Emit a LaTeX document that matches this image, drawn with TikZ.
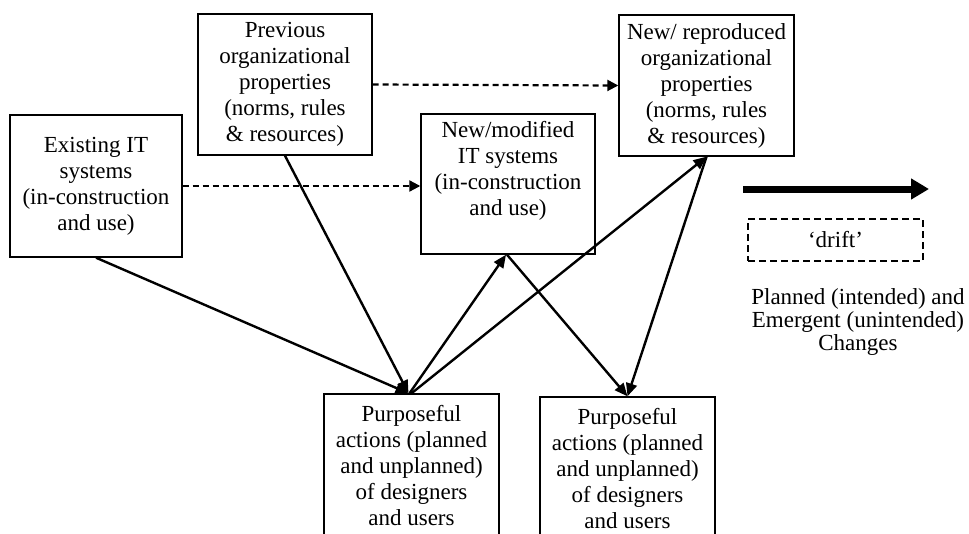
\documentclass[tikz,border=0pt]{standalone}
\usepackage{fontspec}
\setmainfont{Liberation Serif}
\usetikzlibrary{arrows.meta}
\begin{document}
\begin{tikzpicture}[x=1pt,y=-1pt,
  box/.style={draw, line width=1.4pt, align=center, inner sep=0pt,
    font=\fontsize{23}{26}\selectfont},
  txt/.style={align=center, inner sep=0pt, font=\fontsize{23}{26}\selectfont},
  solidarrow/.style={line width=2.4pt, -{Triangle[length=13pt,width=11pt]}},
  dasharrow/.style={line width=2.2pt, dash pattern=on 6pt off 4pt, -{Triangle[length=11pt,width=11pt]}},
  bigarrow/.style={line width=7pt, -{Triangle[length=18pt,width=20pt]}}]
\clip (0,0) rectangle (969,533);
\fill[white] (0,0) rectangle (969,533);

\node[box, minimum width=172pt, minimum height=142pt] (ex) at (96,186)
  {Existing IT\\systems\\(in-construction\\and use)};
\node[box, minimum width=174pt, minimum height=141pt] (prev) at (285,84.5)
  {Previous\\organizational\\properties\\(norms, rules\\\& resources)};
\node[box, minimum width=174pt, minimum height=140pt] (nm) at (508,184) {};
\node[txt] (nmtext) at (508,171) {New/modified\\IT systems\\(in-construction\\and use)};
\node[box, minimum width=175pt, minimum height=141pt] (nr) at (706.5,85.5)
  {New/ reproduced\\organizational\\properties\\(norms, rules\\\& resources)};
\node[box, minimum width=175pt, minimum height=144pt] (p1) at (411.5,466)
  {Purposeful\\actions (planned\\and unplanned)\\of designers\\and users};
\node[box, minimum width=175pt, minimum height=144pt] (p2) at (627.5,469)
  {Purposeful\\actions (planned\\and unplanned)\\of designers\\and users};

\draw[dasharrow] (prev.east) -- (nr.west);
\draw[dasharrow] (ex.east) -- (nm.west |- ex.east);

\draw[solidarrow] (ex.south) -- ([xshift=-3pt]p1.north);
\draw[solidarrow] (prev.south) -- ([xshift=-3pt]p1.north);
\draw[solidarrow] ([xshift=-2pt]p1.north) -- ([xshift=-2pt]nm.south);
\draw[solidarrow] (p1.north) -- (nr.south);
\draw[solidarrow] ([xshift=-1pt]nm.south) -- (p2.north);
\draw[solidarrow] (nr.south) -- (p2.north);

\coordinate (la) at (743,189);
\coordinate (lb) at (929,189);
\draw[bigarrow] (la) -- (lb);
\node[draw, line width=2pt, dash pattern=on 7pt off 4pt, minimum width=175pt, minimum height=42pt,
  font=\fontsize{23}{26}\selectfont] (drift) at (835.5,240) {‘drift’};
\node[align=center, inner sep=0pt, font=\fontsize{23}{23}\selectfont] (legend) at (858,322)
  {Planned (intended) and\\Emergent (unintended)\\Changes};
\end{tikzpicture}
\end{document}
